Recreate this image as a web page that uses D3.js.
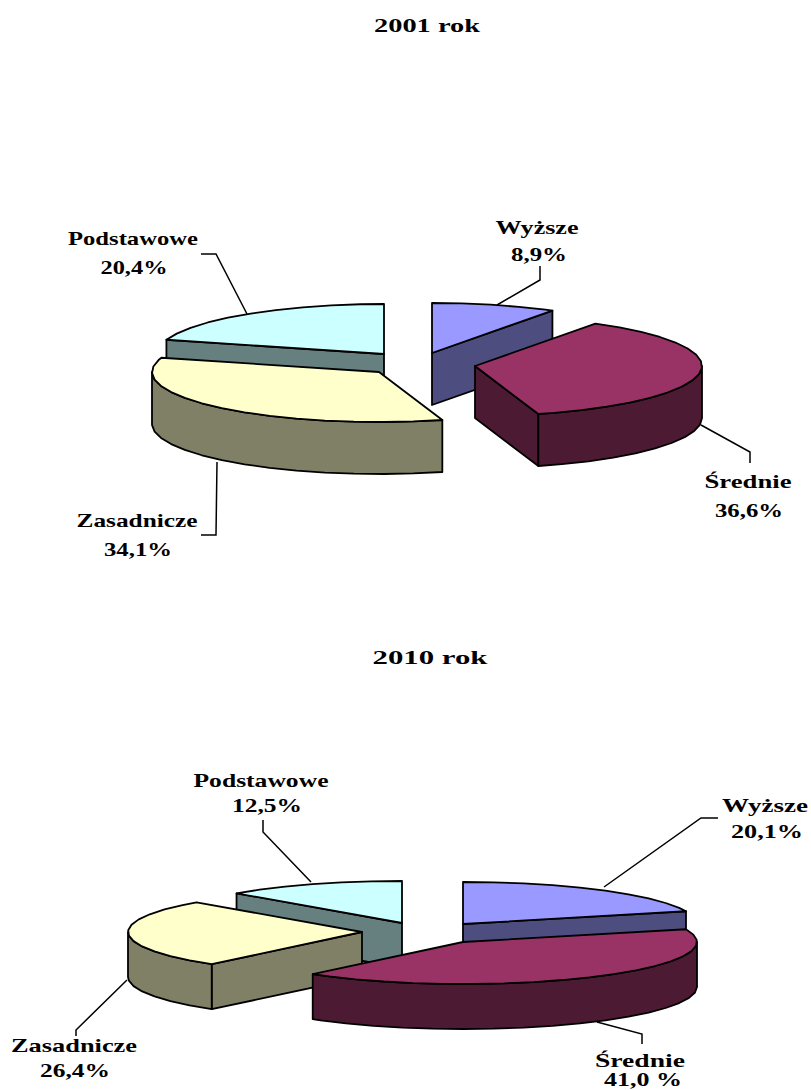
<!DOCTYPE html>
<html lang="pl">
  <head>
    <meta charset="utf-8">
    <title>2001 rok / 2010 rok</title>
    <script src="https://cdn.jsdelivr.net/npm/d3@7"></script>
    <style>
      body { margin: 0; background: #fff; }
      svg { display: block; }
      text { font-family: "Liberation Serif", serif; font-weight: bold; font-size: 19px; fill: #000; }
    </style>
  </head>
  <body>
    <script>
    var categories = ["Wyższe", "Średnie", "Zasadnicze", "Podstawowe"];
    var values2001 = [8.9, 36.6, 34.1, 20.4];
    var values2010 = [20.1, 41.0, 26.4, 12.5];
    var valueLabels2001 = ["8,9%", "36,6%", "34,1%", "20,4%"];
    var valueLabels2010 = ["20,1%", "41,0 %", "26,4%", "12,5%"];
    var topColors = ["#9999ff", "#993366", "#ffffcc", "#ccffff"];
    var sideColors = ["#4d4d80", "#4d1a33", "#808066", "#668080"];

    var w = 811;
    var h = 1090;

    // layout of the two pies: each slice has its own apex, labels are [centre x, baseline, width]
    var charts = [
      {
        title: "2001 rok",
        titlePos: [427, 32, 106],
        values: values2001,
        valueLabels: valueLabels2001,
        rx: 227, ry: 50, depth: 52,
        apex: [[432, 353], [475, 366], [379, 372], [384, 354]],
        nameText: [[537, 234, 83], [748, 488, 87], [137, 527, 121], [133, 245, 130]],
        valueText: [[539, 261, 56], [749, 517, 68], [138, 556, 68], [134, 274, 67]],
        leaders: [
          [[540, 266], [540, 280], [497, 305]],
          [[701, 425], [750, 452], [750, 463]],
          [[217, 462], [216, 535], [201, 535]],
          [[201, 254], [216, 254], [247, 314]]
        ]
      },
      {
        title: "2010 rok",
        titlePos: [430, 664, 115],
        values: values2010,
        valueLabels: valueLabels2010,
        rx: 234, ry: 42, depth: 45,
        apex: [[463, 924], [463, 942], [362, 932], [402, 923]],
        nameText: [[765, 812, 86], [640, 1067, 90], [74, 1052, 126], [261, 787, 135]],
        valueText: [[767, 838, 72], [643, 1086, 78], [75, 1077, 70], [267, 812, 70]],
        leaders: [
          [[718, 818], [701, 818], [604, 887]],
          [[597, 1022], [642, 1034], [642, 1044]],
          [[127, 980], [76, 1030], [76, 1036]],
          [[263, 820], [263, 832], [311, 882]]
        ]
      }
    ];

    var mySvg = d3.select("body")
                  .append("svg")
                  .attr("width", w)
                  .attr("height", h);

    var pie = d3.pie().sort(null);
    var polyline = d3.line();
    var polygon = d3.line().curve(d3.curveLinearClosed);
    var step = Math.PI / 24;

    function addLabel(pos, str) {
      mySvg.append("text")
           .attr("x", pos[0])
           .attr("y", pos[1])
           .attr("text-anchor", "middle")
           .attr("textLength", pos[2])
           .attr("lengthAdjust", "spacingAndGlyphs")
           .text(str);
    }

    function drawChart(c) {
      var xScale = d3.scaleLinear().domain([-1, 1]).range([-c.rx, c.rx]);
      var yScale = d3.scaleLinear().domain([-1, 1]).range([-c.ry, c.ry]);

      // rim point of a slice, angle clockwise from 12 o'clock
      function rim(apex, a, drop) {
        return [apex[0] + xScale(Math.sin(a)), apex[1] + yScale(-Math.cos(a)) + drop];
      }

      function arcAngles(a0, a1) {
        var out = d3.range(a0, a1, step);
        out.push(a1);
        return out;
      }

      function face(path, fill) {
        mySvg.append("path")
             .attr("d", polygon(path))
             .attr("fill", fill)
             .attr("stroke", "#000")
             .attr("stroke-width", 1.8)
             .attr("stroke-linejoin", "round");
      }

      var slices = pie(c.values);

      // back slices first, the two front ones overlap them
      [3, 0, 2, 1].forEach(function(i) {
        var s = slices[i];
        var apex = c.apex[i];
        var low = [apex[0], apex[1] + c.depth];

        // radial walls that face the viewer
        if (Math.sin(s.startAngle) < -1e-6) {
          face([apex, rim(apex, s.startAngle, 0), rim(apex, s.startAngle, c.depth), low], sideColors[i]);
        }
        if (Math.sin(s.endAngle) > 1e-6) {
          face([apex, rim(apex, s.endAngle, 0), rim(apex, s.endAngle, c.depth), low], sideColors[i]);
        }

        // outer wall, only the front half of the rim
        var a0 = Math.max(s.startAngle, Math.PI / 2);
        var a1 = Math.min(s.endAngle, Math.PI * 1.5);
        if (a1 > a0) {
          var angles = arcAngles(a0, a1);
          var upper = angles.map(function(a) { return rim(apex, a, 0); });
          var lower = angles.map(function(a) { return rim(apex, a, c.depth); }).reverse();
          face(upper.concat(lower), sideColors[i]);
        }

        // top face
        var topRim = arcAngles(s.startAngle, s.endAngle).map(function(a) { return rim(apex, a, 0); });
        face([apex].concat(topRim), topColors[i]);
      });

      c.leaders.forEach(function(l) {
        mySvg.append("path")
             .attr("d", polyline(l))
             .attr("fill", "none")
             .attr("stroke", "#000")
             .attr("stroke-width", 1.5);
      });

      addLabel(c.titlePos, c.title);
      categories.forEach(function(name, i) {
        addLabel(c.nameText[i], name);
        addLabel(c.valueText[i], c.valueLabels[i]);
      });
    }

    charts.forEach(drawChart);
    </script>
  </body>
</html>
